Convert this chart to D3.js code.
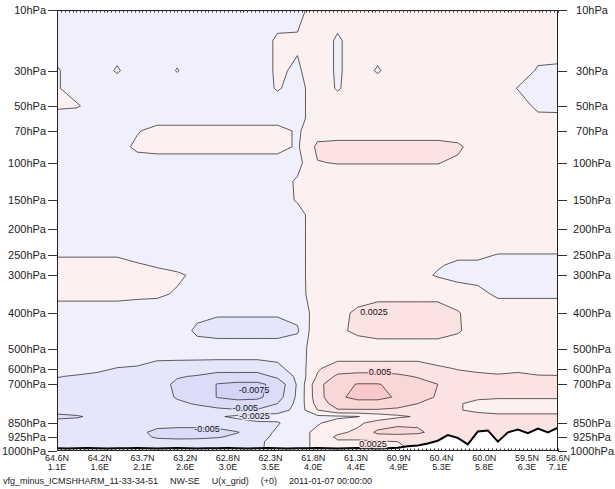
<!DOCTYPE html>
<html><head><meta charset="utf-8">
<script src="https://cdn.jsdelivr.net/npm/d3@7"></script>
<style>
html,body{margin:0;padding:0;background:#fff;}
svg{display:block;font-family:"Liberation Sans",Arial,Helvetica,sans-serif;}
</style></head><body>
<svg id="chart" width="615" height="489"></svg>
<script>
// Vertical axis: pressure ticks and their normalized model height (0 = top, 1 = lowest level)
const pressureTicks = [10,30,50,70,100,150,200,250,300,400,500,600,700,850,925,1000];
const tickSigma = [0,0.1377,0.2172,0.2739,0.3465,0.4311,0.4976,0.5559,0.6013,0.6869,0.7676,0.8130,0.8487,0.9365,0.9682,1];

// Horizontal axis: 130-point NW-SE section, labelled every 11 points
const nSection = 130;
const labelPoints = [0,11,22,33,44,55,66,77,88,99,110,121,129];
const latLabels = ["64.6N","64.2N","63.7N","63.2N","62.8N","62.3N","61.8N","61.3N","60.9N","60.4N","60.0N","59.5N","58.6N"];
const lonLabels = ["1.1E","1.6E","2.1E","2.6E","3.0E","3.5E","4.0E","4.4E","4.9E","5.3E","5.8E","6.3E","7.1E"];

// Difference field U (units of 1e-4), 26 columns along the section, one row per pressure level
const unitScale = 1e-4;
const levels = [10,20,30,40,50,60,70,85,100,125,150,175,200,225,250,275,300,350,400,450,500,550,600,650,700,750,775,800,825,850,900,925,950,975,1000];
const uDiff = [
 [-10,-10,-10,-10,-10,-10,-10,-10,-10,-10,-10,-10,-8,12,10,10,10,10,10,10,10,10,10,10,10,10],
 [-10,-10,-10,-10,-10,-10,-10,-10,-10,-10,-10,3,3,12,-3,10,10,10,10,10,10,10,10,10,10,10],
 [2,-10,-10,2,-10,-10,1,-10,-10,-10,-10,3,-3,12,-3,10,-2,10,10,10,10,10,10,10,-2,-3],
 [2,-10,-10,-10,-10,-10,-10,-10,-10,-10,-10,2,-8,12,-2,10,10,10,10,10,10,10,10,-1,-6,-8],
 [4,2,-10,-10,-10,-10,-10,-10,-10,-10,-10,-10,-8,12,10,10,10,10,10,10,10,10,10,10,-5,-6],
 [-10,-10,-10,-10,-10,-10,-10,-10,-10,-10,-10,-10,-8,12,10,10,10,10,10,10,10,10,10,10,5,5],
 [-10,-10,-10,-10,-2,8,8,8,8,8,8,8,-3,14,10,10,10,10,10,10,10,10,10,10,10,10],
 [-10,-10,-10,-10,5,8,8,8,8,8,8,8,-3,30,35,35,35,35,35,35,30,12,10,10,10,10],
 [-10,-10,-10,-10,-10,-10,-10,-10,-10,-10,-10,-10,-8,24,26,26,26,26,26,26,20,10,10,10,10,10],
 [-10,-10,-10,-10,-10,-10,-10,-10,-10,-10,-10,-10,3,12,10,10,10,10,10,10,10,10,10,10,10,10],
 [-10,-10,-10,-10,-10,-10,-10,-10,-10,-10,-10,-10,2,12,10,10,10,10,10,10,10,10,10,10,10,10],
 [-10,-10,-10,-10,-10,-10,-10,-10,-10,-10,-10,-10,-8,12,10,10,10,10,10,10,10,10,10,10,10,10],
 [-10,-10,-10,-10,-10,-10,-10,-10,-10,-10,-10,-10,-8,12,10,10,10,10,10,10,10,10,10,10,10,10],
 [-10,-10,-10,-10,-10,-10,-10,-10,-10,-10,-10,-10,-8,12,10,10,10,10,10,10,10,10,10,10,10,10],
 [-2,-2,-2,-2,-6,-10,-10,-10,-10,-10,-10,-10,-8,12,10,10,10,10,10,10,4,4,-1,-1,-1,-1],
 [8,8,8,8,2,-2,-6,-10,-10,-10,-10,-10,-8,12,10,10,10,10,10,2,-4,-4,-8,-8,-8,-8],
 [10,10,10,10,8,6,3,-4,-10,-10,-10,-10,-8,12,10,10,10,10,6,-2,-6,-6,-10,-10,-10,-10],
 [6,6,6,6,4,3,-2,-6,-14,-14,-14,-14,-10,14,15,18,18,18,18,18,10,5,-3,-3,-3,-3],
 [-10,-10,-10,-10,-10,-10,-10,-18,-22,-22,-22,-22,-18,12,20,28,35,35,35,35,27,12,10,10,10,10],
 [-10,-10,-10,-10,-10,-10,-12,-30,-35,-35,-35,-35,-28,20,20,30,36,36,36,36,28,12,10,10,10,10],
 [-10,-10,-10,-10,-10,-12,-12,-14,-12,-12,-12,-12,-10,12,10,12,12,12,12,12,10,10,10,10,10,10],
 [-11,-12,-13,-14,-16,-23,-23,-23,-23,-23,-23,-22,-12,15,20,20,20,20,20,18,15,15,15,15,15,15],
 [-14,-16,-20,-26,-28,-32,-34,-36,-40,-40,-40,-30,-16,22,38,38,38,38,38,28,24,22,20,22,20,18],
 [-24,-27,-30,-32,-34,-38,-48,-52,-60,-60,-60,-45,-20,28,55,60,60,55,48,32,30,28,27,28,26,26],
 [-30,-32,-34,-36,-38,-40,-55,-60,-76,-80,-80,-68,-22,42,68,76,76,70,60,50,40,35,32,32,30,30],
 [-32,-34,-36,-36,-38,-40,-52,-58,-76,-82,-80,-62,-20,40,70,82,82,72,58,48,36,27,27,27,27,27],
 [-34,-36,-36,-36,-38,-40,-46,-52,-60,-65,-64,-50,-18,35,62,65,65,60,50,38,26,22,18,18,18,18],
 [-42,-40,-36,-35,-35,-36,-38,-42,-45,-48,-48,-40,-15,25,48,48,48,45,40,32,26,22,18,18,18,18],
 [-55,-52,-45,-38,-36,-36,-34,-32,-28,-20,-15,-12,-5,-5,-4,-1,10,20,28,30,30,30,30,30,30,30],
 [-42,-42,-40,-36,-35,-38,-38,-38,-36,-35,-28,-28,-6,-2,8,20,35,45,45,40,32,30,30,30,30,30],
 [-36,-36,-36,-38,-42,-58,-62,-62,-60,-51,-40,-20,-8,5,20,30,55,58,55,40,35,35,35,35,35,35],
 [-34,-34,-34,-36,-40,-54,-56,-55,-52,-45,-35,-18,-8,5,30,30,40,40,38,35,35,35,35,35,35,35],
 [-32,-32,-32,-32,-32,-40,-42,-42,-40,-36,-30,-16,-8,5,22,22,22,25,30,35,35,35,35,35,35,35],
 [-30,-30,-30,-30,-30,-30,-30,-30,-30,-30,-30,-15,-8,5,15,15,15,20,35,35,35,35,35,35,35,35],
 [-30,-30,-30,-30,-30,-30,-30,-30,-30,-30,-30,-15,-8,5,15,15,15,20,35,35,35,35,35,35,35,35]
];

// Contour levels and the fill of each band (first entry: below the lowest level)
const contourLevels = [-0.0075,-0.005,-0.0025,0,0.0025,0.005,0.0075];
const bandColors = ["#d3d3f6","#dcdcf8","#e6e6fa","#f0f0fd","#fdf0f0","#fce3e3","#fbd6d6","#f9c9c9"];

// Surface pressure along the section (51 evenly spaced points)
const surfaceP = [985,986,985,984,985,986,985,985,984,985,986,985,984,985,986,985,985,984,985,986,985,984,985,986,985,985,984,985,986,985,984,985,986,985,
  982,975,970,960,945,915,930,965,895,890,950,900,885,905,880,900,875];

// Inline contour labels: level value, column position, pressure
const labelLevel = [-0.0075,-0.005,-0.0025,-0.005,0.005,0.0025,0.0025];
const labelCol   = [9.83,9.40,9.85,7.49,16.12,15.82,15.77];
const labelPres  = [723,790,824,884,624,398,964];

const footer = ["vfg_minus_ICMSHHARM_11-33-34-51","NW-SE","U(x_grid)","(+0)","2011-01-07 00:00:00"];

// ---------------------------------------------------------------------------
const svg = d3.select("#chart");
const box = {left:57, right:558, top:10, bottom:451};

const x = d3.scaleLinear().domain([0, nSection-1]).range([box.left, box.right]);
const y = d3.scaleLinear().domain(pressureTicks)
  .range(tickSigma.map(s => box.top + s*(box.bottom-box.top)));

const nCols = uDiff[0].length, nRows = levels.length;
const colX = d3.scaleLinear().domain([0, nCols-1]).range([x(0), x(nSection-1)]).clamp(true);
const rowY = d3.scaleLinear().domain(d3.range(nRows)).range(levels.map(p => y(p))).clamp(true);

svg.append("defs").append("clipPath").attr("id","plotClip")
  .append("rect").attr("x",box.left).attr("y",box.top)
  .attr("width",box.right-box.left).attr("height",box.bottom-box.top);

const plot = svg.append("g").attr("clip-path","url(#plotClip)");

const values = uDiff.flat().map(v => v*unitScale);
const contours = d3.contours().size([nCols, nRows]).thresholds(contourLevels)(values);
const toScreen = d3.geoTransform({
  point(gx, gy){ this.stream.point(colX(gx-0.5), rowY(gy-0.5)); }
});
const path = d3.geoPath(toScreen);

plot.append("rect").attr("x",box.left).attr("y",box.top)
  .attr("width",box.right-box.left).attr("height",box.bottom-box.top)
  .attr("fill",bandColors[0]);

plot.selectAll("path.band").data(contours).join("path")
  .attr("class","band").attr("d",path)
  .attr("fill",(d,i)=>bandColors[i+1]).attr("stroke","none");

plot.selectAll("path.iso").data(contours).join("path")
  .attr("class","iso").attr("d",path)
  .attr("fill","none").attr("stroke","#2a2a2a").attr("stroke-width",0.75)
  .attr("stroke-linejoin","round");

// surface
const sx = d3.scaleLinear().domain([0, surfaceP.length-1]).range([x(0), x(nSection-1)]);
plot.append("path").datum(surfaceP)
  .attr("d", d3.area().x((d,i)=>sx(i)).y0(box.bottom+2).y1(d=>y(d)))
  .attr("fill","#fff");
plot.append("path").datum(surfaceP)
  .attr("d", d3.line().x((d,i)=>sx(i)).y(d=>y(d)))
  .attr("fill","none").attr("stroke","#000").attr("stroke-width",2);

// contour labels
const bandOf = v => bandColors[d3.bisectRight(contourLevels, v)];
plot.selectAll("text.clab").data(labelLevel).join("text")
  .attr("class","clab")
  .attr("x",(d,i)=>colX(labelCol[i])).attr("y",(d,i)=>y(labelPres[i]))
  .attr("text-anchor","middle").attr("dominant-baseline","central")
  .attr("font-size",9).attr("fill","#111")
  .attr("stroke",d => d < 0 ? bandOf(d - 1e-6) : bandOf(d))
  .attr("stroke-width",2.5).attr("paint-order","stroke")
  .text(d => String(d));

// frame
svg.append("rect").attr("x",box.left+0.5).attr("y",box.top+0.5)
  .attr("width",box.right-box.left-1).attr("height",box.bottom-box.top-1)
  .attr("fill","none").attr("stroke","#222").attr("stroke-width",1);

// minor ticks on every section point
const pts = d3.range(nSection);
svg.append("g").selectAll("line").data(pts).join("line")
  .attr("x1",d=>Math.round(x(d))+0.5).attr("x2",d=>Math.round(x(d))+0.5)
  .attr("y1",box.top).attr("y2",box.top+2.5).attr("stroke","#333").attr("stroke-width",1);
svg.append("g").selectAll("line").data(pts).join("line")
  .attr("x1",d=>Math.round(x(d))+0.5).attr("x2",d=>Math.round(x(d))+0.5)
  .attr("y1",box.bottom-2.5).attr("y2",box.bottom).attr("stroke","#333").attr("stroke-width",1);

// pressure axes
const axL = svg.append("g");
axL.selectAll("line").data(pressureTicks).join("line")
  .attr("x1",box.left-9).attr("x2",box.left)
  .attr("y1",d=>Math.round(y(d))+0.5).attr("y2",d=>Math.round(y(d))+0.5)
  .attr("stroke","#333");
axL.selectAll("text").data(pressureTicks).join("text")
  .attr("x",box.left-11).attr("y",d=>y(d)).attr("text-anchor","end")
  .attr("dominant-baseline","central").attr("font-size",11).attr("fill","#222")
  .text(d=>d+"hPa");
const axR = svg.append("g");
axR.selectAll("line").data(pressureTicks).join("line")
  .attr("x1",box.right).attr("x2",box.right+9)
  .attr("y1",d=>Math.round(y(d))+0.5).attr("y2",d=>Math.round(y(d))+0.5)
  .attr("stroke","#333");
axR.selectAll("text").data(pressureTicks).join("text")
  .attr("x",box.right+34).attr("y",d=>y(d)).attr("text-anchor","middle")
  .attr("dominant-baseline","central").attr("font-size",11).attr("fill","#222")
  .text(d=>d+"hPa");

// section labels
const axB = svg.append("g");
axB.selectAll("text.lat").data(labelPoints).join("text").attr("class","lat")
  .attr("x",d=>x(d)).attr("y",458).attr("text-anchor","middle")
  .attr("dominant-baseline","central").attr("font-size",9).attr("fill","#222")
  .text((d,i)=>latLabels[i]);
axB.selectAll("text.lon").data(labelPoints).join("text").attr("class","lon")
  .attr("x",d=>x(d)).attr("y",467).attr("text-anchor","middle")
  .attr("dominant-baseline","central").attr("font-size",9).attr("fill","#222")
  .text((d,i)=>lonLabels[i]);

// footer line
const ft = svg.append("text").attr("x",3).attr("y",481)
  .attr("dominant-baseline","central").attr("font-size",9).attr("fill","#222");
ft.selectAll("tspan").data(footer).join("tspan")
  .attr("dx",(d,i)=> i===0 ? 0 : 12).text(d=>d);
</script>
</body></html>
